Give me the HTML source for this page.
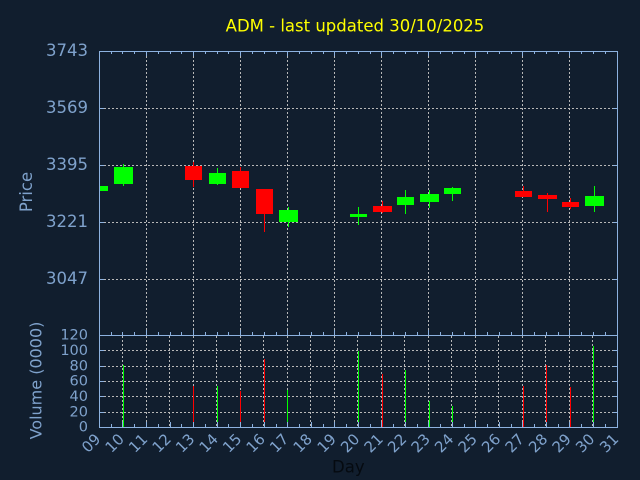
<!DOCTYPE html>
<html><head><meta charset="utf-8"><style>
html,body{margin:0;padding:0;background:#111e2e;}
svg{display:block;}
text{font-family:"DejaVu Sans","Liberation Sans",sans-serif;}
</style></head><body>
<svg width="640" height="480" viewBox="0 0 640 480" xmlns="http://www.w3.org/2000/svg">
<rect x="0" y="0" width="640" height="480" fill="#111e2e"/>
<text x="355" y="31.5" font-size="16.5" fill="#ffff00" text-anchor="middle">ADM - last updated 30/10/2025</text>

<!-- price grid -->
<g stroke="#b8b8b8" stroke-width="1" stroke-dasharray="2,2" fill="none" shape-rendering="crispEdges">
<path d="M146.5 52V335M193.5 52V335M240.5 52V335M287.5 52V335M334.5 52V335M381.5 52V335M428.5 52V335M475.5 52V335M522.5 52V335M569.5 52V335"/>
<path d="M100 108.5H617M100 165.5H617M100 222.5H617M100 279.5H617"/>
<!-- volume grid -->
<path d="M122.5 336V427M146.5 336V427M169.5 336V427M193.5 336V427M216.5 336V427M240.5 336V427M263.5 336V427M287.5 336V427M310.5 336V427M334.5 336V427M357.5 336V427M381.5 336V427M404.5 336V427M428.5 336V427M451.5 336V427M475.5 336V427M498.5 336V427M522.5 336V427M545.5 336V427M569.5 336V427M592.5 336V427"/>
<path d="M100 350.5H617M100 366.5H617M100 381.5H617M100 396.5H617M100 412.5H617"/>
</g>

<!-- candles -->
<g shape-rendering="crispEdges">
<rect x="99" y="186" width="9" height="5" fill="#00ff00"/>
<rect x="123" y="164" width="1" height="22" fill="#00ff00"/><rect x="114" y="167" width="19" height="17" fill="#00ff00"/>
<rect x="193" y="162" width="1" height="25" fill="#ff0000"/><rect x="185" y="166" width="17" height="14" fill="#ff0000"/>
<rect x="217" y="168" width="1" height="17" fill="#00ff00"/><rect x="209" y="173" width="17" height="11" fill="#00ff00"/>
<rect x="240" y="167" width="1" height="21" fill="#ff0000"/><rect x="232" y="171" width="17" height="17" fill="#ff0000"/>
<rect x="264" y="189" width="1" height="43" fill="#ff0000"/><rect x="256" y="189" width="17" height="25" fill="#ff0000"/>
<rect x="288" y="207" width="1" height="20" fill="#00ff00"/><rect x="279" y="210" width="19" height="12" fill="#00ff00"/>
<rect x="358" y="207" width="1" height="18" fill="#00ff00"/><rect x="350" y="214" width="17" height="3" fill="#00ff00"/>
<rect x="382" y="201" width="1" height="12" fill="#ff0000"/><rect x="373" y="206" width="19" height="6" fill="#ff0000"/>
<rect x="405" y="190" width="1" height="24" fill="#00ff00"/><rect x="397" y="197" width="17" height="8" fill="#00ff00"/>
<rect x="429" y="190" width="1" height="18" fill="#00ff00"/><rect x="420" y="194" width="19" height="8" fill="#00ff00"/>
<rect x="452" y="187" width="1" height="14" fill="#00ff00"/><rect x="444" y="188" width="17" height="6" fill="#00ff00"/>
<rect x="523" y="186" width="1" height="11" fill="#ff0000"/><rect x="515" y="191" width="17" height="6" fill="#ff0000"/>
<rect x="547" y="193" width="1" height="19" fill="#ff0000"/><rect x="538" y="195" width="19" height="4" fill="#ff0000"/>
<rect x="570" y="198" width="1" height="11" fill="#ff0000"/><rect x="562" y="202" width="17" height="5" fill="#ff0000"/>
<rect x="594" y="186" width="1" height="26" fill="#00ff00"/><rect x="585" y="196" width="19" height="10" fill="#00ff00"/>
</g>

<!-- volume bars -->
<g shape-rendering="crispEdges">
<rect x="123" y="365" width="1" height="62" fill="#00ff00"/>
<rect x="193" y="386" width="1" height="41" fill="#ff0000"/>
<rect x="217" y="386" width="1" height="41" fill="#00ff00"/>
<rect x="240" y="391" width="1" height="36" fill="#ff0000"/>
<rect x="264" y="359" width="1" height="68" fill="#ff0000"/>
<rect x="287" y="390" width="1" height="37" fill="#00ff00"/>
<rect x="358" y="351" width="1" height="76" fill="#00ff00"/>
<rect x="382" y="374" width="1" height="53" fill="#ff0000"/>
<rect x="405" y="370" width="1" height="57" fill="#00ff00"/>
<rect x="429" y="401" width="1" height="26" fill="#00ff00"/>
<rect x="452" y="406" width="1" height="21" fill="#00ff00"/>
<rect x="523" y="386" width="1" height="41" fill="#ff0000"/>
<rect x="546" y="365" width="1" height="62" fill="#ff0000"/>
<rect x="570" y="387" width="1" height="40" fill="#ff0000"/>
<rect x="593" y="346" width="1" height="81" fill="#00ff00"/>
</g>

<!-- axes frame and ticks -->
<g stroke="#8db2e0" stroke-width="1" fill="none" shape-rendering="crispEdges">
<path d="M99.5 51.5H617.5V427.5H99.5Z M99.5 335.5H617.5"/>
<!-- top ticks (down) -->
<path d="M111.5 51V54M122.5 51V54M134.5 51V54M146.5 51V56M158.5 51V54M170.5 51V54M181.5 51V54M193.5 51V56M205.5 51V54M217.5 51V54M228.5 51V54M240.5 51V56M252.5 51V54M264.5 51V54M276.5 51V54M287.5 51V56M299.5 51V54M311.5 51V54M323.5 51V54M334.5 51V56M346.5 51V54M358.5 51V54M370.5 51V54M381.5 51V56M393.5 51V54M405.5 51V54M417.5 51V54M428.5 51V56M440.5 51V54M452.5 51V54M464.5 51V54M475.5 51V56M487.5 51V54M499.5 51V54M511.5 51V54M522.5 51V56M534.5 51V54M546.5 51V54M558.5 51V54M569.5 51V56M581.5 51V54M593.5 51V54M605.5 51V54"/>
<!-- price bottom ticks (up) -->
<path d="M111.5 335V332M122.5 335V332M134.5 335V332M146.5 335V330M158.5 335V332M170.5 335V332M181.5 335V332M193.5 335V330M205.5 335V332M217.5 335V332M228.5 335V332M240.5 335V330M252.5 335V332M264.5 335V332M276.5 335V332M287.5 335V330M299.5 335V332M311.5 335V332M323.5 335V332M334.5 335V330M346.5 335V332M358.5 335V332M370.5 335V332M381.5 335V330M393.5 335V332M405.5 335V332M417.5 335V332M428.5 335V330M440.5 335V332M452.5 335V332M464.5 335V332M475.5 335V330M487.5 335V332M499.5 335V332M511.5 335V332M522.5 335V330M534.5 335V332M546.5 335V332M558.5 335V332M569.5 335V330M581.5 335V332M593.5 335V332M605.5 335V332"/>
<!-- volume bottom ticks (up) -->
<path d="M111.5 427V424M122.5 427V422M134.5 427V424M146.5 427V422M158.5 427V424M170.5 427V422M181.5 427V424M193.5 427V422M205.5 427V424M217.5 427V422M228.5 427V424M240.5 427V422M252.5 427V424M264.5 427V422M276.5 427V424M287.5 427V422M299.5 427V424M311.5 427V422M323.5 427V424M334.5 427V422M346.5 427V424M358.5 427V422M370.5 427V424M381.5 427V422M393.5 427V424M405.5 427V422M417.5 427V424M428.5 427V422M440.5 427V424M452.5 427V422M464.5 427V424M475.5 427V422M487.5 427V424M499.5 427V422M511.5 427V424M522.5 427V422M534.5 427V424M546.5 427V422M558.5 427V424M569.5 427V422M581.5 427V424M593.5 427V422M605.5 427V424"/>
<!-- y ticks -->
<path d="M99 108.5H104M99 165.5H104M99 222.5H104M99 279.5H104M613 108.5H617M613 165.5H617M613 222.5H617M613 279.5H617"/>
<path d="M99 350.5H104M99 366.5H104M99 381.5H104M99 396.5H104M99 412.5H104M613 350.5H617M613 366.5H617M613 381.5H617M613 396.5H617M613 412.5H617"/>
</g>

<!-- y labels -->
<g fill="#7fa2cc" font-size="16.5" text-anchor="end">
<text x="88" y="56">3743</text>
<text x="88" y="113">3569</text>
<text x="88" y="170">3395</text>
<text x="88" y="227">3221</text>
<text x="88" y="284">3047</text>
</g>
<g fill="#7fa2cc" font-size="14.5" text-anchor="end">
<text x="88" y="339.5">120</text>
<text x="88" y="355">100</text>
<text x="88" y="370.5">80</text>
<text x="88" y="385.5">60</text>
<text x="88" y="401">40</text>
<text x="88" y="416.5">20</text>
<text x="88" y="431.5">0</text>
</g>

<text transform="translate(32,192) rotate(-90)" font-size="16.5" fill="#7fa2cc" text-anchor="middle">Price</text>
<text transform="translate(41.5,380.5) rotate(-90)" font-size="16" fill="#7fa2cc" text-anchor="middle">Volume (0000)</text>

<!-- x labels -->
<g fill="#7fa2cc" font-size="15" text-anchor="end">
<text transform="translate(101.5,440) rotate(-45)">09</text>
<text transform="translate(125,440) rotate(-45)">10</text>
<text transform="translate(148.5,440) rotate(-45)">11</text>
<text transform="translate(172,440) rotate(-45)">12</text>
<text transform="translate(195.5,440) rotate(-45)">13</text>
<text transform="translate(219,440) rotate(-45)">14</text>
<text transform="translate(242.5,440) rotate(-45)">15</text>
<text transform="translate(266,440) rotate(-45)">16</text>
<text transform="translate(289.5,440) rotate(-45)">17</text>
<text transform="translate(313,440) rotate(-45)">18</text>
<text transform="translate(337,440) rotate(-45)">19</text>
<text transform="translate(360.5,440) rotate(-45)">20</text>
<text transform="translate(384,440) rotate(-45)">21</text>
<text transform="translate(407.5,440) rotate(-45)">22</text>
<text transform="translate(431,440) rotate(-45)">23</text>
<text transform="translate(454.5,440) rotate(-45)">24</text>
<text transform="translate(478,440) rotate(-45)">25</text>
<text transform="translate(501.5,440) rotate(-45)">26</text>
<text transform="translate(525,440) rotate(-45)">27</text>
<text transform="translate(548.5,440) rotate(-45)">28</text>
<text transform="translate(572,440) rotate(-45)">29</text>
<text transform="translate(595.5,440) rotate(-45)">30</text>
<text transform="translate(619.5,440) rotate(-45)">31</text>
</g>

<text x="332" y="472.5" font-size="16.5" fill="#050a10">Day</text>
</svg>
</body></html>
